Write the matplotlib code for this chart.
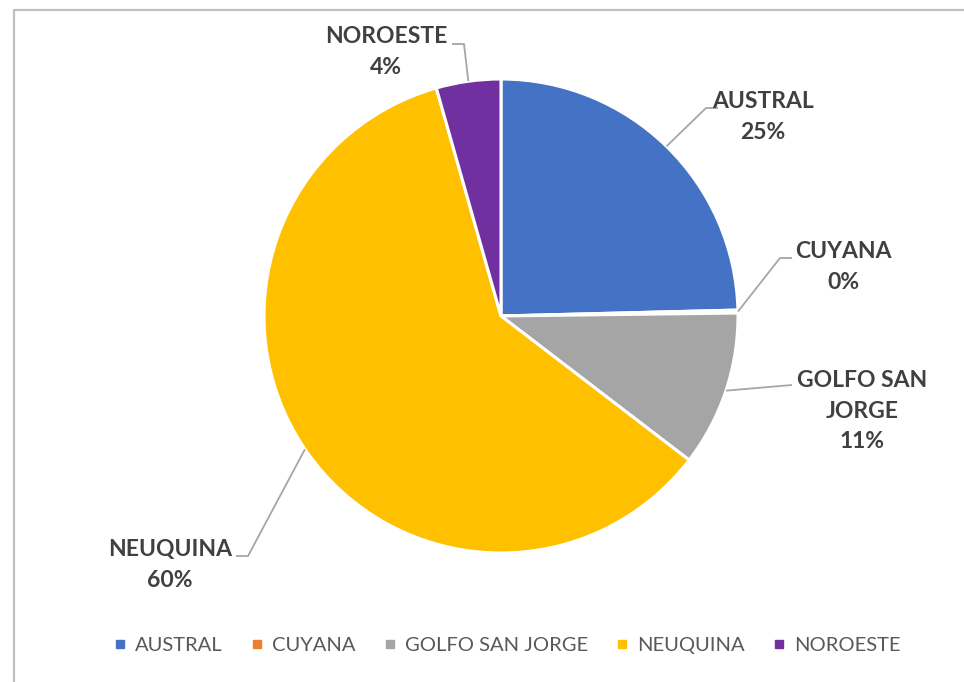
import numpy as np
import matplotlib
matplotlib.use("Agg")
import matplotlib.pyplot as plt
from matplotlib.patches import Rectangle
from matplotlib.lines import Line2D

categories = ["AUSTRAL", "CUYANA", "GOLFO SAN JORGE", "NEUQUINA", "NOROESTE"]
values = [24.6, 0.2, 10.6, 60.2, 4.4]
label_texts = ["AUSTRAL", "CUYANA", "GOLFO SAN\nJORGE", "NEUQUINA", "NOROESTE"]
colors = ["#4472C4", "#ED7D31", "#A5A5A5", "#FFC000", "#7030A0"]

plt.rcParams['font.family'] = ['Lato', 'DejaVu Sans']

W, H = 964, 682
fig = plt.figure(figsize=(W / 100, H / 100), dpi=100)
ax = fig.add_axes([0, 0, 1, 1])

# frame (only top and left edges visible)
fig.patches.append(Rectangle((14 / W, -0.02), (W - 14) / W + 0.02, (H - 10) / H + 0.02,
                             transform=fig.transFigure, fill=False,
                             edgecolor="#BFBFBF", linewidth=1.6))

cx, cy, R = 501, H - 316, 237
wedges, _ = ax.pie(values, colors=colors, startangle=90, counterclock=False,
                   center=(cx, cy), radius=R,
                   wedgeprops=dict(edgecolor="white", linewidth=2.2))
ax.set_xlim(0, W)
ax.set_ylim(0, H)
ax.set_aspect('equal')
ax.axis('off')

# label layout: (text center x, text center y in pixel from top), elbow pts
label_pos = [(763, 117), (843, 267), (862, 411), (170, 565), (386, 52)]
elbows = [[(706, 108), (718, 108)],
          [(780, 258), (792, 258)],
          [(792, 385)],
          [(248, 556), (236, 556)],
          [(464, 44), (452, 44)]]

total = sum(values)
start = 90.0
for i, v in enumerate(values):
    span = 360.0 * v / total
    mid = np.deg2rad(start - span / 2)
    start -= span
    px, py = cx + R * np.cos(mid), cy + R * np.sin(mid)
    pts = [(px, py)] + [(x, H - y) for x, y in elbows[i]]
    xs, ys = zip(*pts)
    ax.plot(xs, ys, color="#A6A6A6", linewidth=1.3, solid_capstyle='butt')
    pct = f"{round(100 * v / total):.0f}%"
    tx, ty = label_pos[i]
    ax.text(tx, H - ty, f"{label_texts[i]}\n{pct}", ha="center", va="center",
            fontsize=16.5, fontweight="bold", color="#404040", linespacing=1.55)

handles = [Line2D([], [], marker='s', linestyle='', markersize=6,
                  markerfacecolor=c, markeredgecolor=c) for c in colors]
leg = fig.legend(handles, categories, loc='center', bbox_to_anchor=(507 / W, 1 - 645 / H),
                 ncol=5, frameon=False, fontsize=14.5, handlelength=0.7,
                 handletextpad=0.4, columnspacing=1.35, labelcolor="#595959")

fig.savefig("out.png", dpi=100)
